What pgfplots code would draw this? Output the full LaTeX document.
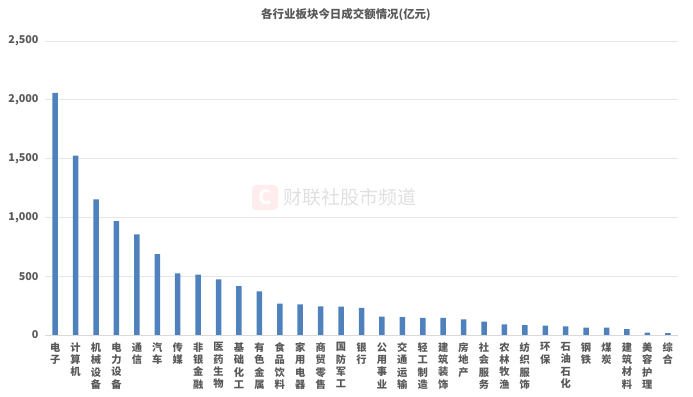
\documentclass[border=0pt]{standalone}
\usepackage{pgfplots}
\pgfplotsset{compat=1.18}
\usepackage{fontspec}
\setmainfont{Noto Sans CJK SC}
\definecolor{barblue}{HTML}{4F81BD}
\definecolor{txt}{HTML}{595959}
\definecolor{gridc}{HTML}{E6E6E6}
\definecolor{axc}{HTML}{D9D9D9}
\begin{document}
\begin{tikzpicture}
\path[use as bounding box] (0,0) rectangle (693bp,397bp);
% watermark
\fill[red!60, opacity=0.12, rounded corners=4bp] (252bp,187bp) rectangle (278bp,212bp);
\node[text=white, font=\bfseries\fontsize{20}{20}\selectfont] at (265bp,199.5bp) {C};
\node[anchor=west, text=black!12, font=\fontsize{19}{19}\selectfont] at (280bp,199.5bp) {财联社股市频道};
\begin{axis}[
  at={(45bp,62bp)}, anchor=south west, scale only axis,
  width=633bp, height=294bp,
  xmin=-0.5, xmax=30.5, ymin=0, ymax=2500,
  ybar, bar width=5.5bp,
  separate axis lines,
  axis x line*=bottom,
  x axis line style={draw=axc, line width=1bp, -},
  y axis line style={draw=none},
  major tick length=0pt,
  xtick={0,...,30},
  xticklabels={{电\\子},{计\\算\\机},{机\\械\\设\\备},{电\\力\\设\\备},{通\\信},{汽\\车},{传\\媒},{非\\银\\金\\融},{医\\药\\生\\物},{基\\础\\化\\工},{有\\色\\金\\属},{食\\品\\饮\\料},{家\\用\\电\\器},{商\\贸\\零\\售},{国\\防\\军\\工},{银\\行},{公\\用\\事\\业},{交\\通\\运\\输},{轻\\工\\制\\造},{建\\筑\\装\\饰},{房\\地\\产},{社\\会\\服\\务},{农\\林\\牧\\渔},{纺\\织\\服\\饰},{环\\保},{石\\油\\石\\化},{钢\\铁},{煤\\炭},{建\\筑\\材\\料},{美\\容\\护\\理},{综\\合}},
  xticklabel style={align=center, anchor=north, yshift=-4bp, text=txt,
    font=\fontsize{10.3}{12.4}\selectfont\bfseries},
  ytick={0,500,1000,1500,2000,2500},
  ymajorgrids, grid style={draw=gridc, line width=0.9bp},
  yticklabel style={text=txt, font=\fontsize{10.8}{12}\selectfont\bfseries, xshift=-3bp},
  /pgf/number format/.cd, 1000 sep={,}, assume math mode=true,
]
\addplot[fill=barblue, draw=none] coordinates {
(0,2058) (1,1525) (2,1153) (3,969) (4,856) (5,688) (6,524) (7,513) (8,473) (9,416)
(10,371) (11,266) (12,261) (13,244) (14,242) (15,230) (16,156) (17,152) (18,146) (19,145)
(20,133) (21,113) (22,91) (23,85) (24,79) (25,74) (26,62) (27,62) (28,51) (29,20) (30,17)
};
\end{axis}
\node[text=txt, font=\fontsize{11.5}{13}\selectfont\bfseries] at (346bp,382bp) {各行业板块今日成交额情况(亿元)};
\end{tikzpicture}
\end{document}
